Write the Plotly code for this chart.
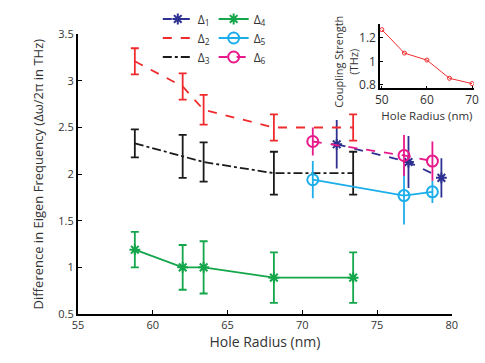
import plotly.graph_objects as go

# main panel data
x_left = [58.8, 62.0, 63.4, 68.1, 73.4]
d2_y = [3.21, 2.94, 2.69, 2.50, 2.50]
d2_err = [0.14, 0.14, 0.16, 0.14, 0.14]
d3_y = [2.33, 2.19, 2.13, 2.01, 2.01]
d3_err = [0.15, 0.23, 0.21, 0.23, 0.23]
d4_y = [1.19, 1.00, 1.00, 0.89, 0.89]
d4_err = [0.19, 0.24, 0.28, 0.27, 0.27]

d1_x = [72.3, 77.1, 79.3]
d1_y = [2.32, 2.13, 1.96]
d1_err = [0.26, 0.28, 0.21]

x_right = [70.7, 76.8, 78.7]
d5_y = [1.94, 1.77, 1.81]
d5_err = [0.20, 0.31, 0.12]
d6_y = [2.35, 2.20, 2.14]
d6_err = [0.15, 0.22, 0.21]

# inset data
inset_x = [50, 55, 60, 65, 70]
inset_y = [1.27, 1.07, 1.01, 0.855, 0.81]

NAVY = "#2E3192"
RED = "#EF2B2D"
BLACK = "#1A1A1A"
GREEN = "#13A64A"
CYAN = "#1CAEEA"
MAGENTA = "#E8198B"
FONT = "Open Sans"
TXT = "#333333"

fig = go.Figure()


def add_series(x, y, err, name, color, dash, symbol, cap, legend, msize=9):
    mode = "lines+markers" if symbol else "lines"
    fig.add_trace(go.Scatter(
        x=x, y=y, name=name, mode=mode, legend=legend,
        line=dict(color=color, width=1.8, dash=dash),
        marker=dict(symbol=symbol or "circle", size=msize, color=color,
                    line=dict(color=color, width=2)),
        error_y=dict(type="data", array=err, visible=True, color=color,
                     thickness=1.8, width=cap),
        xaxis="x", yaxis="y",
    ))


add_series(d1_x, d1_y, d1_err, "Δ<sub>1</sub>", NAVY, "dash", "asterisk-open", 0, "legend")
add_series(x_left, d2_y, d2_err, "Δ<sub>2</sub>", RED, "dash", None, 4, "legend")
add_series(x_left, d3_y, d3_err, "Δ<sub>3</sub>", BLACK, "dashdot", None, 4, "legend")
add_series(x_left, d4_y, d4_err, "Δ<sub>4</sub>", GREEN, "solid", "asterisk-open", 4, "legend2")
add_series(x_right, d5_y, d5_err, "Δ<sub>5</sub>", CYAN, "solid", "circle-open", 0, "legend2", 11)
add_series(x_right, d6_y, d6_err, "Δ<sub>6</sub>", MAGENTA, "dash", "circle-open", 0, "legend2", 11)

# inset
fig.add_trace(go.Scatter(
    x=inset_x, y=inset_y, mode="lines+markers", showlegend=False,
    line=dict(color=RED, width=1),
    marker=dict(symbol="circle-open", size=4, color=RED, line=dict(width=1)),
    xaxis="x2", yaxis="y2",
))

axis_common = dict(showline=True, linecolor="black", ticks="inside",
                   tickcolor="black", showgrid=False, zeroline=False,
                   mirror=False, automargin=False)
small_font = dict(size=11, color=TXT, family=FONT)

fig.update_layout(
    width=485, height=363,
    margin=dict(l=78, r=8, t=5, b=49),
    paper_bgcolor="white", plot_bgcolor="white",
    font=dict(family=FONT, color=TXT),
    xaxis=dict(domain=[0, 0.937], range=[55, 80], dtick=5, linewidth=2,
               ticklen=4, tickfont=small_font,
               title=dict(text="Hole Radius (nm)", font=dict(size=14), standoff=6),
               **axis_common),
    yaxis=dict(domain=[0, 0.958], range=[0.5, 3.5], dtick=0.5, linewidth=2,
               ticklen=4, tickfont=small_font,
               title=dict(text="Difference in Eigen Frequency (Δω/2π in THz)",
                          font=dict(size=13), standoff=12),
               **axis_common),
    xaxis2=dict(domain=[0.757, 0.992], range=[49.6, 70.4], tickvals=[50, 60, 70],
                anchor="y2", linewidth=1.5, ticklen=3, tickfont=dict(size=12),
                title=dict(text="Hole Radius (nm)", font=dict(size=11.5), standoff=1),
                **axis_common),
    yaxis2=dict(domain=[0.773, 0.994], range=[0.77, 1.32], tickvals=[0.8, 1, 1.2],
                anchor="x2", linewidth=1.5, ticklen=3, tickfont=dict(size=12),
                **axis_common),
    legend=dict(x=0.2, y=1.06, xanchor="left", yanchor="top", bgcolor="rgba(0,0,0,0)",
                font=dict(size=12, color=TXT), itemwidth=30, tracegroupgap=0),
    legend2=dict(x=0.34, y=1.06, xanchor="left", yanchor="top", bgcolor="rgba(0,0,0,0)",
                 font=dict(size=12, color=TXT), itemwidth=30, tracegroupgap=0),
    annotations=[dict(
        text="Coupling Strength<br>(THz)", textangle=-90, showarrow=False,
        xref="paper", yref="paper", x=0.672, y=0.864,
        xanchor="center", yanchor="middle", font=dict(size=11, color=TXT),
    )],
)

# page body has a default 8px margin; drop it so the figure sits at the corner
fig.write_html("out.html", config={"displayModeBar": False},
               post_script="document.body.style.margin='0';")
